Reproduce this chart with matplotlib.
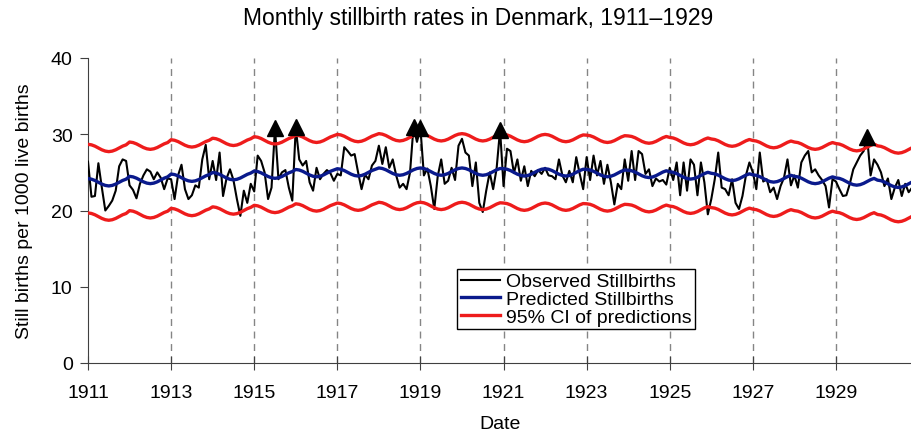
import numpy as np
import matplotlib.pyplot as plt

plt.rcParams['font.family'] = ['Liberation Sans', 'DejaVu Sans']

# yearly level of the fitted model and its monthly seasonal offset (Jan..Dec)
years = list(range(1911, 1931))
trend = [23.7, 24.0, 24.3, 24.5, 24.7, 24.9, 25.0, 25.1, 25.1, 25.1,
         25.0, 25.0, 24.9, 24.8, 24.6, 24.4, 24.2, 24.0, 23.8, 23.5]
seasonal = [0.48, 0.41, 0.24, 0.0, -0.24, -0.41, -0.48, -0.41, -0.24, 0.0, 0.24, 0.41]
ci_half = 4.5

# observed monthly stillbirths per 1000 live births, Jan 1911 .. Dec 1930
observed = [
    26.4, 21.8, 21.9, 26.2, 23.0, 20.0, 20.6, 21.3, 22.6, 25.8, 26.7, 26.5,  # 1911
    23.3, 22.7, 21.6, 23.5, 24.6, 25.4, 25.1, 24.1, 25.0, 24.3, 22.8, 24.2,  # 1912
    24.1, 21.5, 24.6, 26.0, 22.8, 21.5, 22.0, 23.3, 23.0, 26.7, 28.6, 24.1,  # 1913
    26.5, 24.0, 27.6, 21.9, 24.2, 25.4, 24.0, 21.5, 19.3, 22.6, 21.0, 23.5,  # 1914
    22.5, 27.2, 26.5, 25.0, 21.5, 23.0, 30.8, 24.1, 25.0, 25.3, 23.0, 21.3,  # 1915
    30.9, 26.7, 25.9, 26.5, 23.7, 22.6, 25.6, 24.1, 24.8, 25.3, 24.9, 23.9,  # 1916
    24.8, 24.6, 28.3, 27.8, 27.2, 27.4, 25.0, 22.8, 24.7, 24.1, 25.9, 26.5,  # 1917
    28.5, 26.1, 28.3, 25.6, 26.7, 24.6, 23.0, 23.5, 22.8, 25.0, 31.0, 29.0,  # 1918
    30.8, 24.6, 25.5, 23.2, 20.2, 24.5, 26.7, 23.5, 23.9, 25.6, 24.0, 28.5,  # 1919
    29.4, 27.6, 27.2, 23.2, 26.3, 21.0, 19.8, 22.6, 25.0, 22.8, 25.5, 30.6,  # 1920
    23.2, 28.1, 27.8, 24.9, 26.7, 23.9, 25.8, 23.2, 25.2, 24.5, 25.3, 24.8,  # 1921
    25.6, 24.6, 24.5, 24.1, 26.7, 24.6, 23.7, 25.2, 23.7, 27.0, 24.8, 22.8,  # 1922
    27.0, 24.0, 27.2, 24.6, 26.5, 23.5, 26.0, 23.7, 20.8, 23.5, 22.8, 26.7,  # 1923
    23.9, 27.8, 24.0, 27.8, 27.4, 24.8, 25.4, 23.2, 24.2, 23.8, 24.0, 23.4,  # 1924
    25.6, 24.0, 26.3, 22.0, 26.3, 22.6, 26.7, 26.0, 22.0, 26.3, 23.7, 19.5,  # 1925
    21.5, 24.1, 27.6, 23.0, 22.8, 22.0, 24.1, 21.0, 20.2, 21.9, 24.6, 26.3,  # 1926
    25.0, 22.8, 27.6, 23.8, 24.1, 22.4, 23.0, 21.5, 23.2, 24.3, 26.7, 23.3,  # 1927
    24.6, 23.0, 26.3, 27.2, 27.8, 25.0, 25.4, 24.6, 24.0, 23.2, 20.4, 24.1,  # 1928
    23.8, 22.8, 21.9, 22.0, 23.5, 25.4, 26.3, 27.2, 27.8, 29.6, 24.6, 26.7,  # 1929
    26.0, 25.0, 23.2, 24.2, 21.5, 23.0, 24.0, 21.9, 23.5, 22.4, 23.0, 22.0,  # 1930
]

tick_years = list(range(1911, 1931, 2))

t = np.array([y + m / 12 for y in years for m in range(12)])
pred = np.array([trend[i] + seasonal[m] for i in range(len(years)) for m in range(12)])
upper = pred + ci_half
lower = pred - ci_half
obs = np.array(observed)
high = obs > upper  # months above the upper limit get a triangle

fig = plt.figure(figsize=(9.12, 4.35), dpi=100)
ax = fig.add_axes([88 / 912, 1 - 364 / 435, 824 / 912, 305 / 435])

for yr in tick_years[1:]:
    ax.axvline(yr, color='#858585', lw=1, ls=(0, (5, 4)), zorder=1)

l_obs, = ax.plot(t, obs, color='black', lw=1.5, zorder=3)
l_pred, = ax.plot(t, pred, color='#0a1a8c', lw=2.4, zorder=4)
l_ci, = ax.plot(t, upper, color='#ee1c1c', lw=2.4, zorder=4)
ax.plot(t, lower, color='#ee1c1c', lw=2.4, zorder=4)
ax.plot(t[high], obs[high], ls='none', marker='^', color='black', ms=11, zorder=5)

ax.set_xlim(1911, 1930.83)
ax.set_ylim(0, 40)
ax.set_xticks(tick_years)
ax.set_yticks([0, 10, 20, 30, 40])
for s in ['top', 'right']:
    ax.spines[s].set_visible(False)
for s in ['left', 'bottom']:
    ax.spines[s].set_color('#404040')
ax.tick_params(axis='x', direction='inout', length=10, color='#404040', labelsize=14, pad=10)
ax.tick_params(axis='y', direction='out', length=6, color='#404040', labelsize=14, pad=5)

ax.set_xlabel('Date', fontsize=14, labelpad=10)
ax.set_ylabel('Still births per 1000 live births', fontsize=14, labelpad=13)
fig.text(478 / 912, 1 - 18 / 435, 'Monthly stillbirth rates in Denmark, 1911\u20131929',
         ha='center', va='center', fontsize=16.5)

leg = ax.legend([l_obs, l_pred, l_ci],
                ['Observed Stillbirths', 'Predicted Stillbirths', '95% CI of predictions'],
                loc='lower left', bbox_to_anchor=(0.448, 0.11), borderaxespad=0,
                fontsize=14, handlelength=2.0, handletextpad=0.3, labelspacing=0.0,
                fancybox=False, framealpha=1, edgecolor='black', borderpad=0.2)
leg.get_frame().set_linewidth(1)

fig.savefig('out.png', dpi=100)
